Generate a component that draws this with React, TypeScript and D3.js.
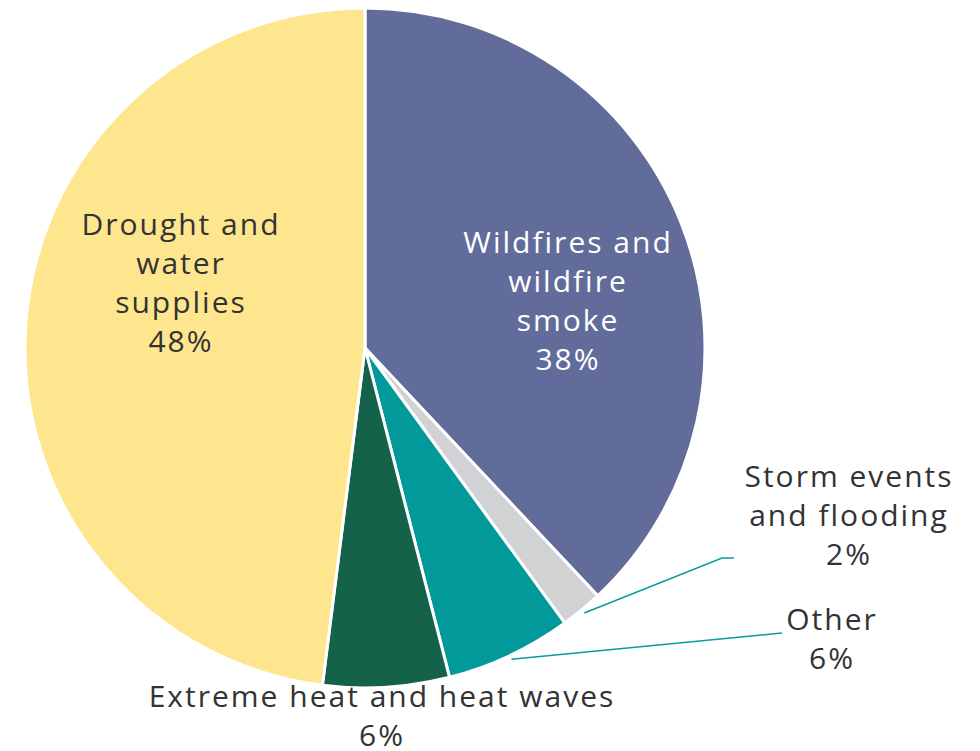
import React from "react";
import * as d3 from "d3";

// Share of responses by climate concern, drawn clockwise from 12 o'clock
const categories = [
  "Wildfires and wildfire smoke",
  "Storm events and flooding",
  "Other",
  "Extreme heat and heat waves",
  "Drought and water supplies",
];
const shares = [38, 2, 6, 6, 48];
const sliceColors = ["#616C9B", "#D1D2D4", "#02999B", "#14624A", "#FEE68F"];

// Label lines per slice (name lines followed by the percentage)
const labelLines = [
  ["Wildfires and", "wildfire", "smoke"],
  ["Storm events", "and flooding"],
  ["Other"],
  ["Extreme heat and heat waves"],
  ["Drought and", "water", "supplies"],
];
const labelPos: [number, number][] = [
  [567, 253],
  [848, 487],
  [831, 630],
  [381, 707],
  [180, 235],
];
const labelFill = ["#FFFFFF", "#333333", "#333333", "#333333", "#333333"];
// Leader line elbow/end points for the slices labelled outside the pie
const leaders: Record<number, [number, number][]> = {
  1: [[722, 558], [734, 558]],
  2: [[782, 633]],
};

const W = 980;
const H = 751;
const cx = 365;
const cy = 348;
const R = 340;
const lineH = 39;
const FONT = "'Open Sans', sans-serif";

export default function App() {
  const data = categories.map((c, i) => ({ name: c, value: shares[i], i }));
  const pie = d3.pie<{ name: string; value: number; i: number }>()
    .value((d) => d.value)
    .sort(null)
    .startAngle(0)
    .endAngle(2 * Math.PI);
  const arcs = pie(data);
  const arc = d3.arc<d3.PieArcDatum<any>>().innerRadius(0).outerRadius(R);

  return (
    <svg
      width={W}
      height={H}
      style={{ position: "absolute", left: 0, top: 0, background: "#fff" }}
    >
      <g transform={`translate(${cx},${cy})`}>
        {arcs.map((a, k) => (
          <path
            key={k}
            d={arc(a) || ""}
            fill={sliceColors[a.data.i]}
            stroke="#fff"
            strokeWidth={3}
            strokeLinejoin="round"
          />
        ))}
      </g>
      {arcs.map((a, k) => {
        const pts = leaders[a.data.i];
        if (!pts) return null;
        const mid = (a.startAngle + a.endAngle) / 2;
        const r0 = R + 4;
        const start: [number, number] = [cx + r0 * Math.sin(mid), cy - r0 * Math.cos(mid)];
        const line = d3.line()([start, ...pts]) || "";
        return (
          <path key={"l" + k} d={line} fill="none" stroke="#0A9BA0" strokeWidth={1.6} />
        );
      })}
      {arcs.map((a, k) => {
        const i = a.data.i;
        const [x, y] = labelPos[i];
        const lines = [...labelLines[i], `${shares[i]}%`];
        return (
          <text
            key={"t" + k}
            x={x}
            y={y}
            textAnchor="middle"
            fontFamily={FONT}
            fontSize={30}
            letterSpacing={2}
            fill={labelFill[i]}
          >
            {lines.map((ln, j) => (
              <tspan key={j} x={x + 1} y={y + j * lineH}>
                {ln}
              </tspan>
            ))}
          </text>
        );
      })}
    </svg>
  );
}
